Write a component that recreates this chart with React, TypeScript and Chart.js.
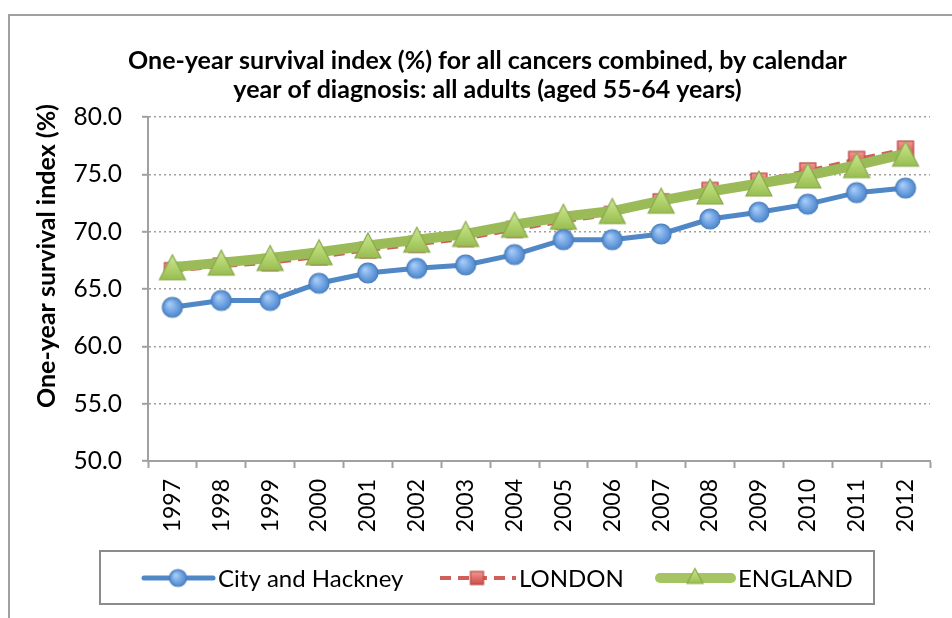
import React, { useEffect, useRef } from "react";
import { Chart, registerables } from "chart.js";

Chart.register(...registerables);

const years = ["1997", "1998", "1999", "2000", "2001", "2002", "2003", "2004", "2005", "2006", "2007", "2008", "2009", "2010", "2011", "2012"];
const cityHackney = [63.4, 64.0, 64.0, 65.5, 66.4, 66.8, 67.1, 68.0, 69.3, 69.3, 69.8, 71.1, 71.7, 72.4, 73.4, 73.8];
const london = [66.6, 67.0, 67.3, 67.8, 68.4, 68.9, 69.4, 70.2, 70.9, 71.5, 72.6, 73.6, 74.4, 75.3, 76.3, 77.2];
const england = [66.9, 67.3, 67.7, 68.2, 68.8, 69.3, 69.8, 70.6, 71.3, 71.8, 72.7, 73.5, 74.2, 74.9, 75.8, 76.8];
const seriesNames = ["City and Hackney", "LONDON", "ENGLAND"];
const titleLines = ["One-year survival index (%) for all cancers combined, by calendar", "year of diagnosis: all adults (aged 55-64 years)"];
const yAxisTitle = "One-year survival index (%)";
const yMin = 50;
const yMax = 80;
const yStep = 5;

const FONT = 'Lato, "Liberation Sans", Arial, sans-serif';
const GRID = "#a0a0a0";

function makeCircle(r: number) {
  const s = Math.ceil(r * 2 + 4);
  const c = document.createElement("canvas");
  c.width = s; c.height = s;
  const g = c.getContext("2d")!;
  const cx = s / 2, cy = s / 2;
  const grad = g.createRadialGradient(cx - r * 0.3, cy - r * 0.35, r * 0.1, cx, cy, r);
  grad.addColorStop(0, "#a6cbf5");
  grad.addColorStop(0.6, "#6ea2e2");
  grad.addColorStop(1, "#4f86c8");
  g.beginPath();
  g.arc(cx, cy, r, 0, Math.PI * 2);
  g.fillStyle = grad;
  g.fill();
  g.lineWidth = 1.2;
  g.strokeStyle = "#4a7ebb";
  g.stroke();
  return c;
}

function makeTriangle(w: number, h: number) {
  const cw = Math.ceil(w + 4), ch = Math.ceil(h + 4);
  const c = document.createElement("canvas");
  c.width = cw; c.height = ch;
  const g = c.getContext("2d")!;
  const x0 = (cw - w) / 2, y0 = (ch - h) / 2;
  const grad = g.createLinearGradient(0, y0, 0, y0 + h);
  grad.addColorStop(0, "#cde59a");
  grad.addColorStop(0.5, "#b3d46e");
  grad.addColorStop(1, "#98bd52");
  g.beginPath();
  g.moveTo(x0 + w / 2, y0);
  g.lineTo(x0 + w, y0 + h);
  g.lineTo(x0, y0 + h);
  g.closePath();
  g.fillStyle = grad;
  g.fill();
  g.lineWidth = 1.2;
  g.strokeStyle = "#89a94a";
  g.stroke();
  return c;
}

function makeSquare(w: number) {
  const s = Math.ceil(w + 4);
  const c = document.createElement("canvas");
  c.width = s; c.height = s;
  const g = c.getContext("2d")!;
  const x0 = (s - w) / 2;
  const grad = g.createLinearGradient(0, x0, 0, x0 + w);
  grad.addColorStop(0, "#f29a96");
  grad.addColorStop(0.5, "#e0706b");
  grad.addColorStop(1, "#c9504c");
  g.fillStyle = grad;
  g.fillRect(x0, x0, w, w);
  g.lineWidth = 1.2;
  g.strokeStyle = "#b94541";
  g.strokeRect(x0, x0, w, w);
  return c;
}

export default function App() {
  const ref = useRef<HTMLCanvasElement>(null);

  useEffect(() => {
    const canvas = ref.current!;
    const circ = makeCircle(10);
    const tri = makeTriangle(26, 25);
    const sq = makeSquare(16);
    const circL = makeCircle(8.5);
    const triL = makeTriangle(16, 15);
    const sqL = makeSquare(13);

    const decor = {
      id: "decor",
      beforeDraw(chart: any) {
        const ctx = chart.ctx;
        ctx.save();
        ctx.fillStyle = "#fff";
        ctx.fillRect(0, 0, chart.width, chart.height);
        ctx.strokeStyle = GRID;
        ctx.lineWidth = 2;
        ctx.beginPath();
        ctx.moveTo(9, 700);
        ctx.lineTo(9, 15);
        ctx.lineTo(1000, 15);
        ctx.stroke();
        ctx.restore();
      },
      afterDraw(chart: any) {
        const ctx = chart.ctx;
        ctx.save();
        ctx.fillStyle = "#000";
        // main title
        ctx.font = `bold 25px ${FONT}`;
        ctx.textAlign = "center";
        ctx.textBaseline = "alphabetic";
        ctx.fillText(titleLines[0], 487.5, 69);
        ctx.fillText(titleLines[1], 487.5, 98);
        // y axis title
        ctx.save();
        ctx.translate(47, 256);
        ctx.rotate(-Math.PI / 2);
        ctx.textAlign = "center";
        ctx.textBaseline = "middle";
        ctx.font = `bold 25px ${FONT}`;
        ctx.fillText(yAxisTitle, 0, 0);
        ctx.restore();
        // legend box
        ctx.strokeStyle = "#8c8c8c";
        ctx.lineWidth = 2;
        ctx.strokeRect(100, 551, 774, 53);
        const cy = 578;
        ctx.lineCap = "round";
        // City
        ctx.strokeStyle = "#4f87c7";
        ctx.lineWidth = 5;
        ctx.beginPath(); ctx.moveTo(144, cy); ctx.lineTo(213, cy); ctx.stroke();
        ctx.drawImage(circL, 178 - circL.width / 2, cy - circL.height / 2);
        // London
        ctx.lineCap = "butt";
        ctx.strokeStyle = "#cf5f5b";
        ctx.lineWidth = 4;
        ctx.setLineDash([11, 7]);
        ctx.beginPath(); ctx.moveTo(440, cy); ctx.lineTo(516, cy); ctx.stroke();
        ctx.setLineDash([]);
        ctx.drawImage(sqL, 477 - sqL.width / 2, cy - sqL.height / 2);
        // England
        ctx.lineCap = "round";
        ctx.strokeStyle = "#a5c463";
        ctx.lineWidth = 10;
        ctx.beginPath(); ctx.moveTo(660, cy); ctx.lineTo(731, cy); ctx.stroke();
        ctx.drawImage(triL, 695 - triL.width / 2, cy - triL.height / 2 - 2);
        // labels
        ctx.fillStyle = "#000";
        ctx.font = `24px ${FONT}`;
        ctx.textAlign = "left";
        ctx.textBaseline = "middle";
        ctx.fillText(seriesNames[0], 218, cy + 1);
        ctx.fillText(seriesNames[1], 519, cy + 1);
        ctx.fillText(seriesNames[2], 738, cy + 1);
        ctx.restore();
      },
    };

    const chart = new Chart(canvas, {
      type: "line",
      data: {
        labels: years,
        datasets: [
          {
            label: seriesNames[0],
            data: cityHackney,
            borderColor: "#4f87c7",
            borderWidth: 5,
            pointStyle: circ as any,
            pointRadius: 10,
            tension: 0,
            order: 0,
          },
          {
            label: seriesNames[1],
            data: london,
            borderColor: "#cf5f5b",
            borderWidth: 4,
            borderDash: [11, 7],
            pointStyle: sq as any,
            pointRadius: 9,
            tension: 0,
            order: 2,
          },
          {
            label: seriesNames[2],
            data: england,
            borderColor: "#9bbb59",
            borderWidth: 10,
            pointStyle: tri as any,
            pointRadius: 12,
            tension: 0,
            order: 1,
          },
        ],
      },
      options: {
        animation: false,
        responsive: false,
        layout: { padding: { top: 117, right: 22, bottom: 0, left: 0 } },
        plugins: { legend: { display: false }, title: { display: false }, tooltip: { enabled: false } },
        scales: {
          x: {
            type: "category",
            offset: true,
            grid: { offset: true, drawOnChartArea: false, drawTicks: true, tickLength: 7, tickColor: GRID, tickWidth: 2 },
            border: { color: GRID, width: 2 },
            ticks: { minRotation: 90, maxRotation: 90, autoSkip: false, padding: 11, color: "#000", font: { family: FONT, size: 23 } },
            afterFit(s: any) { s.height = 157; },
          },
          y: {
            min: yMin,
            max: yMax,
            ticks: { stepSize: yStep, padding: 20, color: "#000", font: { family: FONT, size: 24.5 }, callback: (v: any) => Number(v).toFixed(1) },
            grid: { color: GRID, lineWidth: 1.6, drawTicks: true, tickLength: 6, tickColor: GRID, tickWidth: 2 },
            border: { color: GRID, width: 2, dash: [2, 3] },
            afterFit(s: any) { s.width = 148; },
          },
        },
      },
      plugins: [decor],
    });
    return () => chart.destroy();
  }, []);

  return (
    <div style={{ position: "fixed", left: 0, top: 0, width: 952, height: 618, overflow: "hidden", background: "#fff" }}>
      <canvas ref={ref} width={952} height={618} style={{ width: 952, height: 618, display: "block" }} />
    </div>
  );
}
